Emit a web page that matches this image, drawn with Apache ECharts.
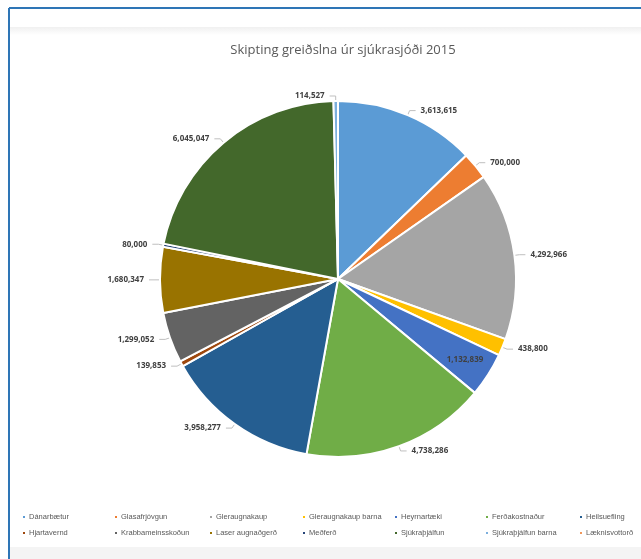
<!DOCTYPE html>
<html>
<head>
<meta charset="utf-8">
<script src="https://cdn.jsdelivr.net/npm/echarts@6/dist/echarts.min.js"></script>
<style>
html,body{margin:0;padding:0;background:#fff;}
#chart{width:641px;height:559px;}
</style>
</head>
<body>
<div id="chart"></div>
<script>
const chartTitle = 'Skipting greiðslna úr sjúkrasjóði 2015';
const categories = ['Dánarbætur','Glasafrjóvgun','Gleraugnakaup','Gleraugnakaup barna','Heyrnartæki','Ferðakostnaður','Heilsuefling','Hjartavernd','Krabbameinsskoðun','Laser augnaðgerð','Meðferð','Sjúkraþjálfun','Sjúkraþjálfun barna','Læknisvottorð'];
const values = [3613615, 700000, 4292966, 438800, 1132839, 4738286, 3958277, 139853, 1299052, 1680347, 80000, 6045047, 114527, 0];
const colors = ['#5B9BD5','#ED7D31','#A5A5A5','#FFC000','#4472C4','#70AD47','#255E91','#9E480E','#636363','#997300','#264478','#43682B','#7CAFDD','#F1975A'];
const insideLabelItems = ['Heyrnartæki'];

const pieRadius = 178;
const chart = echarts.init(document.getElementById('chart'));

const total = values.reduce((a, b) => a + b, 0);
let cum = 0;
const seriesData = categories.map((name, i) => {
  const item = { name: name, value: values[i], itemStyle: { color: colors[i] } };
  const midFrac = (cum + values[i] / 2) / total;
  cum += values[i];
  if (values[i] === 0) { item.label = { show: false }; item.labelLine = { show: false }; }
  if (insideLabelItems.indexOf(name) >= 0) {
    // push the inside label from mid-radius towards the rim (as in the reference)
    const ang = midFrac * 2 * Math.PI;
    const shift = 0.33 * pieRadius;
    item.label = { position: 'inside', color: '#404040', offset: [shift * Math.sin(ang), -shift * Math.cos(ang)] };
  }
  return item;
});

// legend columns (2 items each, vertical)
const colX = [16, 108, 203, 296, 388, 479, 573];
const legends = colX.map((x, c) => ({
  orient: 'vertical',
  left: x,
  top: 508,
  itemWidth: 4,
  itemHeight: 4,
  itemGap: 8,
  icon: 'rect',
  selectedMode: false,
  textStyle: { fontSize: 7.5, color: '#595959', fontFamily: 'Liberation Sans', padding: [0, 0, 0, -2] },
  data: [categories[c], categories[c + 7]]
}));

chart.setOption({
  animation: false,
  backgroundColor: '#ffffff',
  title: {
    text: chartTitle,
    left: 338,
    top: 39,
    textAlign: 'center',
    textStyle: { fontSize: 13, fontWeight: 'normal', color: '#595959', fontFamily: 'Open Sans' }
  },
  legend: legends,
  graphic: [
    { type: 'rect', shape: { x: 10, y: 27, width: 631, height: 8 }, style: { fill: new echarts.graphic.LinearGradient(0, 0, 0, 1, [{ offset: 0, color: '#f0f0f0' }, { offset: 1, color: '#ffffff' }]) }, silent: true, z: -1 },
    { type: 'rect', shape: { x: 10, y: 547, width: 631, height: 12 }, style: { fill: '#f4f4f4' }, silent: true, z: -1 },
    { type: 'line', shape: { x1: 9, y1: 8, x2: 641, y2: 8 }, style: { stroke: '#2E75B6', lineWidth: 2 }, silent: true },
    { type: 'line', shape: { x1: 9, y1: 8, x2: 9, y2: 559 }, style: { stroke: '#2E75B6', lineWidth: 2 }, silent: true }
  ],
  series: [{
    type: 'pie',
    center: [338, 279],
    radius: pieRadius,
    startAngle: 90,
    clockwise: true,
    data: seriesData,
    itemStyle: { borderColor: '#ffffff', borderWidth: 2 },
    label: {
      show: true,
      formatter: p => p.value.toLocaleString('en-US'),
      fontSize: 8,
      fontWeight: 'bold',
      color: '#404040',
      fontFamily: 'Open Sans'
    },
    labelLine: { show: true, length: 5, length2: 6, lineStyle: { color: '#bfbfbf', width: 1 } },
    avoidLabelOverlap: true
  }]
});
</script>
</body>
</html>
